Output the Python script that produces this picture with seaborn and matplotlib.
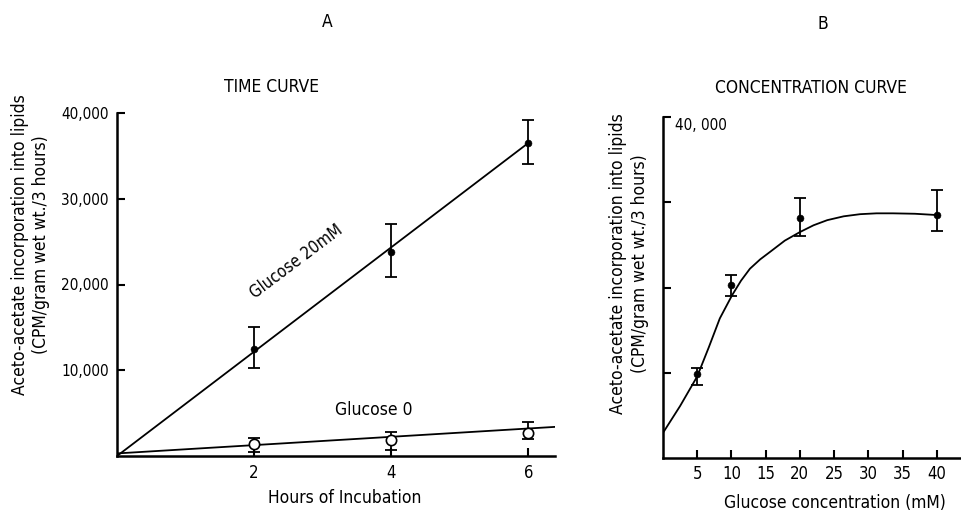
import numpy as np
import pandas as pd
import matplotlib
matplotlib.use("Agg")
import matplotlib.pyplot as plt
import seaborn as sns

# ---- data panel A (time curve)
hours = [2, 4, 6]
g20_mean = [12500, 23800, 36500]
g20_lo = [10300, 20900, 34000]
g20_hi = [15000, 27000, 39200]
g0_mean = [1400, 1900, 2700]
g0_lo = [500, 700, 2000]
g0_hi = [2100, 2800, 4000]
g20_line_x = [0, 6]
g20_line_y = [0, 36500]
g0_line_x = [0, 6.4]
g0_line_y = [300, 3400]

# ---- data panel B (concentration curve)
conc = [5, 10, 20, 40]
conc_mean = [9800, 20300, 28100, 28500]
conc_lo = [8600, 19000, 26000, 26600]
conc_hi = [10500, 21500, 30500, 31400]
curve_x = [0, 2.5, 5, 6.7, 8.3, 10.1, 11.4, 12.7, 14.2, 15.6, 17.8, 20, 22, 24, 26.4, 28.8, 31.2, 33.6, 36.8, 40]
curve_y = [2950, 6100, 9570, 13000, 16370, 19100, 20800, 22200, 23300, 24150, 25500, 26500, 27300, 27900, 28350, 28600, 28700, 28700, 28650, 28500]

y_ticks = [10000, 20000, 30000, 40000]
y_ticklabels_A = ["10,000", "20,000", "30,000", "40,000"]
x_ticks_A = [2, 4, 6]
x_ticks_B = [5, 10, 15, 20, 25, 30, 35, 40]

sns.set_style("ticks")
plt.rcParams['font.family'] = ['DejaVu Sans']
plt.rcParams['font.stretch'] = 'condensed'
plt.rcParams['axes.linewidth'] = 1.8
plt.rcParams['text.color'] = 'black'
plt.rcParams['axes.labelcolor'] = 'black'
plt.rcParams['xtick.color'] = 'black'
plt.rcParams['ytick.color'] = 'black'
plt.rcParams['axes.edgecolor'] = 'black'

fig = plt.figure(figsize=(9.61, 5.13), dpi=100)
W, H = 961, 513

def px_axes(x0, y_top, x1, y_bot):
    return fig.add_axes([x0 / W, (H - y_bot) / H, (x1 - x0) / W, (y_bot - y_top) / H])

def fx(x):
    return x / W

def fy(y):
    return 1 - y / H

axA = px_axes(117, 113, 555, 456)
axB = px_axes(663, 117, 960, 458)

FS_TICK = 11
FS_LAB = 12.5
FS_TITLE = 12.5
FS_ANN = 12

# Panel A
sns.lineplot(x=g20_line_x, y=g20_line_y, ax=axA, color="black", lw=1.3)
sns.lineplot(x=g0_line_x, y=g0_line_y, ax=axA, color="black", lw=1.3)
axA.errorbar(hours, g20_mean,
             yerr=[np.subtract(g20_mean, g20_lo), np.subtract(g20_hi, g20_mean)],
             fmt="none", ecolor="black", elinewidth=1.3, capsize=4, capthick=1.3)
axA.errorbar(hours, g0_mean,
             yerr=[np.subtract(g0_mean, g0_lo), np.subtract(g0_hi, g0_mean)],
             fmt="none", ecolor="black", elinewidth=1.3, capsize=4, capthick=1.3)
sns.scatterplot(x=hours, y=g20_mean, ax=axA, color="black", s=25, zorder=5, edgecolor="black")
sns.scatterplot(x=hours, y=g0_mean, ax=axA, color="white", s=55, zorder=5, edgecolor="black", linewidth=1.2)

axA.set_xlim(0, 6.39)
axA.set_ylim(0, 40000)
axA.set_xticks(x_ticks_A)
axA.set_xticklabels([str(h) for h in x_ticks_A], fontsize=FS_TICK + 1)
axA.set_yticks(y_ticks)
axA.set_yticklabels(y_ticklabels_A, fontsize=FS_TICK)
axA.tick_params(direction="in", length=6, width=1.5, pad=6)
sns.despine(ax=axA)
axA.set_xlabel("")
axA.set_ylabel("")
axA.text(2.61, 22640, "Glucose 20mM", rotation=37, fontsize=FS_ANN, ha="center", va="center")
axA.text(3.75, 5370, "Glucose 0", fontsize=FS_ANN + 0.5, ha="center", va="center")

fig.text(fx(345), fy(498), "Hours of Incubation", fontsize=FS_LAB, ha="center", va="center")
fig.text(fx(20), fy(245), "Aceto-acetate incorporation into lipids",
         rotation=90, fontsize=FS_LAB, ha="center", va="center")
fig.text(fx(41), fy(245), "(CPM/gram wet wt./3 hours)",
         rotation=90, fontsize=FS_LAB, ha="center", va="center")
fig.text(fx(271), fy(87), "TIME CURVE", fontsize=FS_TITLE, ha="center", va="center")

# Panel B
sns.lineplot(x=curve_x, y=curve_y, ax=axB, color="black", lw=1.3)
axB.errorbar(conc, conc_mean,
             yerr=[np.subtract(conc_mean, conc_lo), np.subtract(conc_hi, conc_mean)],
             fmt="none", ecolor="black", elinewidth=1.3, capsize=4, capthick=1.3)
sns.scatterplot(x=conc, y=conc_mean, ax=axB, color="black", s=25, zorder=5, edgecolor="black")
axB.set_xlim(0, 43.4)
axB.set_ylim(0, 40000)
axB.set_xticks(x_ticks_B)
axB.set_xticklabels([str(c) for c in x_ticks_B], fontsize=FS_TICK + 1)
axB.set_yticks(y_ticks)
axB.set_yticklabels(["", "", "", ""])
axB.tick_params(direction="in", length=6, width=1.5, pad=5)
sns.despine(ax=axB)
axB.set_xlabel("")
axB.set_ylabel("")
fig.text(fx(675), fy(125), "40, 000", fontsize=FS_TICK, ha="left", va="center")
fig.text(fx(835), fy(503), "Glucose concentration (mM)", fontsize=FS_LAB, ha="center", va="center")
fig.text(fx(618), fy(264), "Aceto-acetate incorporation into lipids",
         rotation=90, fontsize=FS_LAB, ha="center", va="center")
fig.text(fx(640), fy(264), "(CPM/gram wet wt./3 hours)",
         rotation=90, fontsize=FS_LAB, ha="center", va="center")
fig.text(fx(811), fy(88), "CONCENTRATION CURVE", fontsize=FS_TITLE, ha="center", va="center")

fig.text(fx(327), fy(22), "A", fontsize=FS_TITLE, ha="center", va="center")
fig.text(fx(823), fy(24), "B", fontsize=FS_TITLE, ha="center", va="center")

fig.savefig("out.png", dpi=100)
